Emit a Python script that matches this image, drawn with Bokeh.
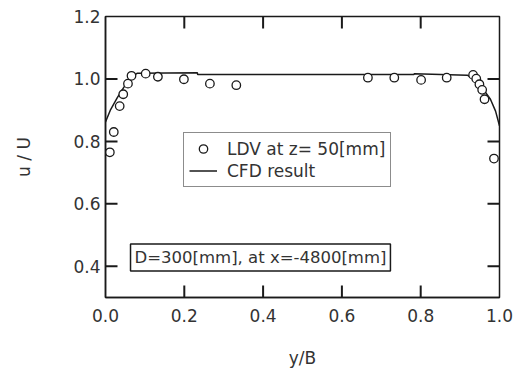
from bokeh.plotting import figure
from bokeh.models import (FixedTicker, NumeralTickFormatter, Range1d,
                          Legend, LegendItem, Label, ColumnDataSource)
from bokeh.embed import file_html
from bokeh.resources import INLINE

# ---- data ----
ldv_x = [0.011, 0.021, 0.036, 0.045, 0.057, 0.066, 0.102, 0.133, 0.199, 0.265, 0.332,
         0.666, 0.733, 0.801, 0.866, 0.933, 0.941, 0.949, 0.956, 0.962, 0.986]
ldv_y = [0.765, 0.830, 0.913, 0.951, 0.985, 1.010, 1.017, 1.007, 0.999, 0.985, 0.980,
         1.004, 1.004, 0.997, 1.004, 1.013, 1.001, 0.983, 0.965, 0.935, 0.745]

cfd_x = [0.0, 0.013, 0.030, 0.046, 0.063, 0.080, 0.233, 0.234, 0.783, 0.784,
         0.918, 0.935, 0.956, 0.977, 0.990, 1.0]
cfd_y = [0.862, 0.902, 0.940, 0.972, 1.004, 1.018, 1.020, 1.014, 1.014, 1.017,
         1.012, 1.000, 0.972, 0.935, 0.897, 0.850]

x_ticks = [0.0, 0.2, 0.4, 0.6, 0.8, 1.0]
y_ticks = [0.4, 0.6, 0.8, 1.0, 1.2]
legend_labels = ["LDV at z= 50[mm]", "CFD result"]
note_text = "D=300[mm], at x=-4800[mm]"
x_label = "y/B"
y_label = "u / U"

X0, X1 = 0.0, 1.0
Y0, Y1 = 0.3, 1.2

FONT = "DejaVu Sans"
TXT = "#333333"
LINE = "#1a1a1a"
FS = "17px"

W, H = 513, 372
BL, BR, BT, BB = 105, 14, 16, 75
FRAME_W = W - BL - BR
FRAME_H = H - BT - BB
TICK_LEN = 12
dx = TICK_LEN / FRAME_W * (X1 - X0)
dy = TICK_LEN / FRAME_H * (Y1 - Y0)

p = figure(width=W, height=H, output_backend="svg", toolbar_location=None,
           x_range=Range1d(X0, X1), y_range=Range1d(Y0, Y1),
           min_border_left=BL, min_border_right=BR, min_border_top=BT, min_border_bottom=BB,
           x_axis_label=x_label, y_axis_label=y_label)
p.background_fill_color = "white"
p.border_fill_color = "white"
p.outline_line_color = LINE
p.outline_line_width = 1.5
p.grid.visible = False

for ax, ticks in ((p.xaxis[0], x_ticks), (p.yaxis[0], y_ticks)):
    ax.ticker = FixedTicker(ticks=ticks)
    ax.formatter = NumeralTickFormatter(format="0.0")
    ax.major_tick_in = 0
    ax.major_tick_out = 0
    ax.major_tick_line_color = None
    ax.minor_tick_line_color = None
    ax.axis_line_color = LINE
    ax.axis_line_width = 1.5
    ax.major_label_text_font = FONT
    ax.major_label_text_font_size = FS
    ax.major_label_text_color = TXT
    ax.axis_label_text_font = FONT
    ax.axis_label_text_font_size = FS
    ax.axis_label_text_font_style = "normal"
    ax.axis_label_text_color = TXT

xa = p.xaxis[0]
ya = p.yaxis[0]
xa.major_label_standoff = 11
xa.axis_label_standoff = 23
ya.major_label_standoff = 5
ya.axis_label_standoff = 36

# inward tick marks on all four sides, at the tick values
inner_x = x_ticks[1:-1]
inner_y = y_ticks[:-1]
nx, ny = len(inner_x), len(inner_y)
tick_sources = [
    ColumnDataSource(dict(x0=inner_x, y0=[Y0] * nx, x1=inner_x, y1=[Y0 + dy] * nx)),
    ColumnDataSource(dict(x0=inner_x, y0=[Y1] * nx, x1=inner_x, y1=[Y1 - dy] * nx)),
    ColumnDataSource(dict(x0=[X0] * ny, y0=inner_y, x1=[X0 + dx] * ny, y1=inner_y)),
    ColumnDataSource(dict(x0=[X1] * ny, y0=inner_y, x1=[X1 - dx] * ny, y1=inner_y)),
]
for s in tick_sources:
    p.segment("x0", "y0", "x1", "y1", source=s, line_color=LINE, line_width=2)

src_cfd = ColumnDataSource(dict(x=cfd_x, y=cfd_y))
src_ldv = ColumnDataSource(dict(x=ldv_x, y=ldv_y))
r_line = p.line("x", "y", source=src_cfd, line_color=LINE, line_width=1.5)
r_pts = p.scatter("x", "y", source=src_ldv, marker="circle", size=8.5,
                  line_color=LINE, line_width=1.3, fill_color="white")

legend = Legend(items=[LegendItem(label=legend_labels[0], renderers=[r_pts]),
                       LegendItem(label=legend_labels[1], renderers=[r_line])],
                location=(78, 110))
legend.label_text_font = FONT
legend.label_text_font_size = FS
legend.label_text_color = TXT
legend.border_line_color = LINE
legend.border_line_width = 1.5
legend.padding = 5
legend.spacing = 1
legend.label_height = 21
legend.glyph_height = 21
legend.glyph_width = 28
legend.label_standoff = 10
legend.margin = 0
legend.background_fill_alpha = 1.0
p.add_layout(legend, "center")

note = Label(x=0.0635, y=0.428, text=note_text, text_font=FONT, text_font_size="16.5px",
             text_color=TXT, text_align="left", text_baseline="middle",
             border_line_color=LINE, border_line_width=1.5,
             background_fill_color="white", padding=4)
p.add_layout(note)

open("out.html", "w").write(file_html(p, INLINE))
